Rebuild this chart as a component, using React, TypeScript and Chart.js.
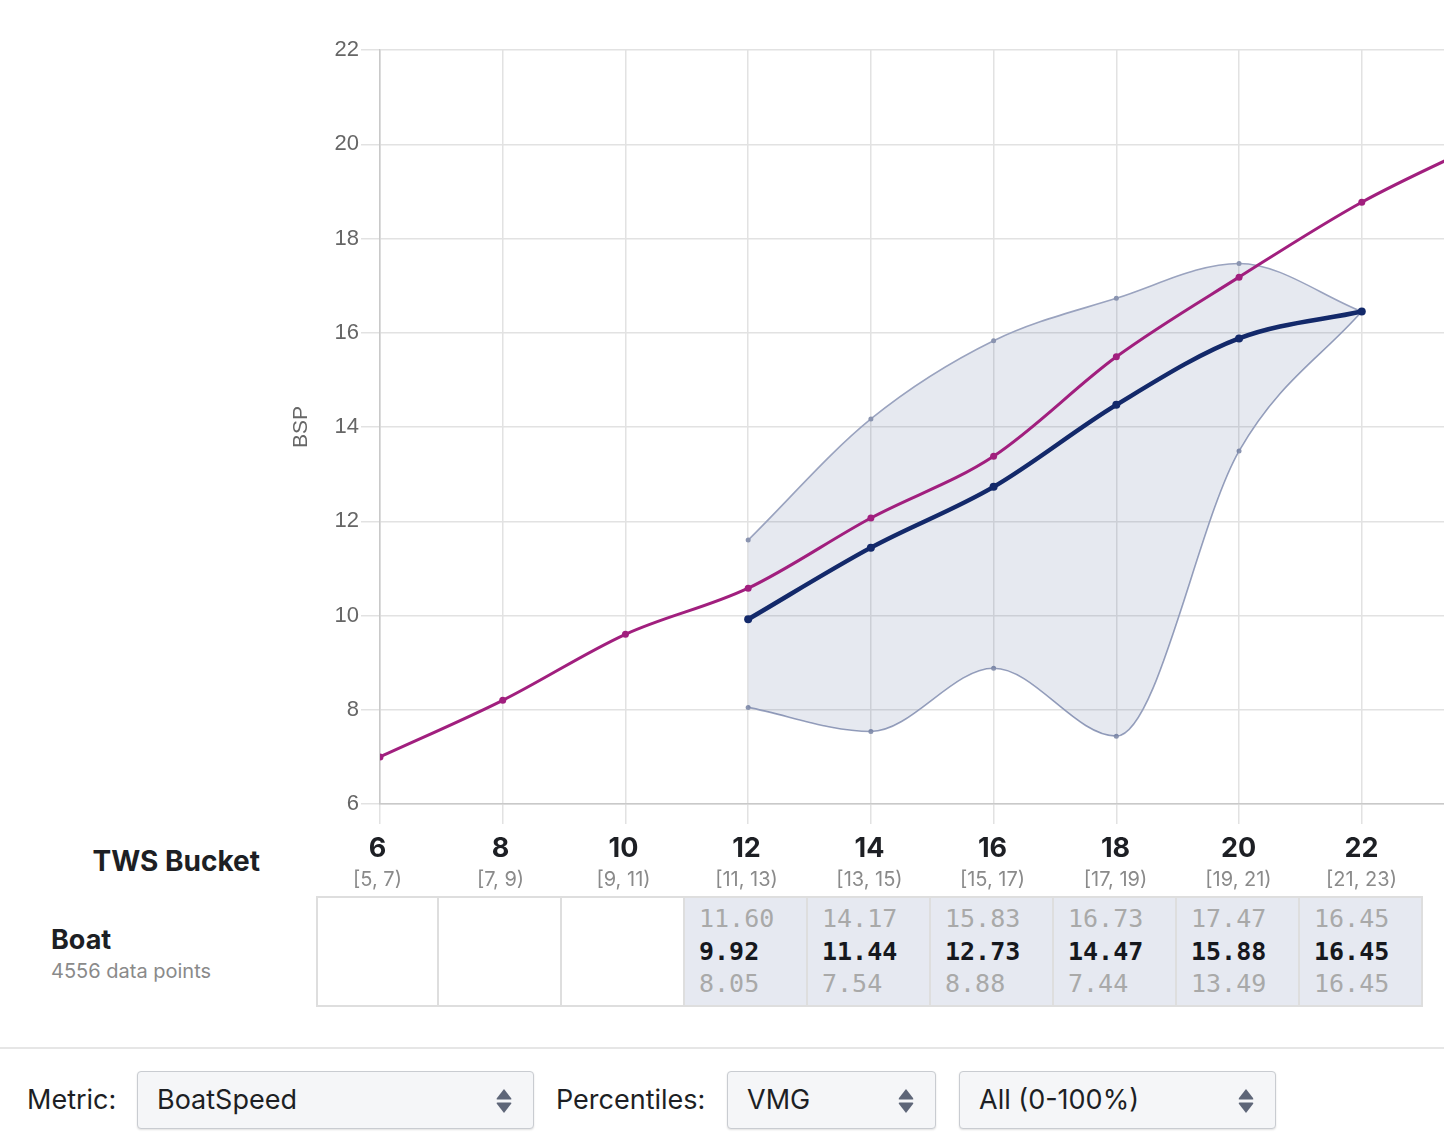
import React, { useEffect, useRef } from "react";
import { Chart, registerables } from "chart.js";

Chart.register(...registerables);

// ---- data ----
const twsBuckets = [6, 8, 10, 12, 14, 16, 18, 20, 22];
const bucketRanges = ["[5, 7)", "[7, 9)", "[9, 11)", "[11, 13)", "[13, 15)", "[15, 17)", "[17, 19)", "[19, 21)", "[21, 23)"];
const targetX = [6, 8, 10, 12, 14, 16, 18, 20, 22, 24];
const targetBsp = [7.0, 8.2, 9.6, 10.58, 12.07, 13.38, 15.49, 17.18, 18.77, 20.05];
const boatX = [12, 14, 16, 18, 20, 22];
const boatUpper = [11.6, 14.17, 15.83, 16.73, 17.47, 16.45];
const boatMedian = [9.92, 11.44, 12.73, 14.47, 15.88, 16.45];
const boatLower = [8.05, 7.54, 8.88, 7.44, 13.49, 16.45];
const yTicksMin = 6;
const yTicksMax = 22;

const pts = (xs: number[], ys: number[]) => xs.map((x, i) => ({ x, y: ys[i] }));

const UI_FONT = "Inter, 'Noto Sans', sans-serif";
const MONO = "'DejaVu Sans Mono', monospace";

function Arrows() {
  return (
    <svg width="18" height="26" viewBox="0 0 18 26" style={{ position: "absolute", right: 20, top: 16 }}>
      <path d="M9 1 L16 10 Q17 11.5 15.5 11.5 L2.5 11.5 Q1 11.5 2 10 Z" fill="#5e6678" />
      <path d="M9 25 L16 16 Q17 14.5 15.5 14.5 L2.5 14.5 Q1 14.5 2 16 Z" fill="#5e6678" />
    </svg>
  );
}

function Select({ left, width, text }: { left: number; width: number; text: string }) {
  return (
    <div
      style={{
        position: "absolute",
        left,
        top: 1071,
        width: width - 2,
        height: 56,
        border: "1px solid #c9ccd1",
        borderRadius: 4,
        background: "#f5f6f8",
        boxShadow: "0 1px 2px rgba(0,0,0,0.12)",
        boxSizing: "content-box",
      }}
    >
      <div style={{ position: "absolute", left: 19, top: 0, lineHeight: "56px", fontSize: 27, color: "#1d1f24" }}>{text}</div>
      <Arrows />
    </div>
  );
}

export default function App() {
  const canvasRef = useRef<HTMLCanvasElement | null>(null);

  useEffect(() => {
    const ctx = canvasRef.current;
    if (!ctx) return;
    const chart = new Chart(ctx, {
      type: "line",
      data: {
        datasets: [
          {
            label: "Boat median",
            data: pts(boatX, boatMedian),
            borderColor: "#13296a",
            backgroundColor: "#13296a",
            borderWidth: 4.5,
            pointRadius: 4,
            pointBorderWidth: 0,
            cubicInterpolationMode: "monotone",
            order: 0,
            fill: false,
          },
          {
            label: "Target",
            data: pts(targetX, targetBsp),
            borderColor: "#a11f7e",
            backgroundColor: "#a11f7e",
            borderWidth: 3,
            pointRadius: 3.5,
            pointBorderWidth: 0,
            cubicInterpolationMode: "monotone",
            order: 1,
            fill: false,
          },
          {
            label: "Upper",
            data: pts(boatX, boatUpper),
            borderColor: "#9aa3bf",
            backgroundColor: "rgba(22,45,110,0.105)",
            pointBackgroundColor: "#8a94b0",
            borderWidth: 1.6,
            pointRadius: 2.5,
            pointBorderWidth: 0,
            cubicInterpolationMode: "monotone",
            order: 2,
            fill: "+1",
          },
          {
            label: "Lower",
            data: pts(boatX, boatLower),
            borderColor: "#9aa3bf",
            backgroundColor: "#8a94b0",
            pointBackgroundColor: "#8a94b0",
            borderWidth: 1.6,
            pointRadius: 2.5,
            pointBorderWidth: 0,
            cubicInterpolationMode: "monotone",
            order: 3,
            fill: false,
          },
        ],
      },
      options: {
        animation: false,
        responsive: false,
        maintainAspectRatio: false,
        layout: { padding: { top: 49, right: 0, left: 0, bottom: 0 } },
        plugins: { legend: { display: false }, tooltip: { enabled: false } },
        scales: {
          x: {
            type: "linear",
            min: 6,
            max: 23.34,
            ticks: { stepSize: 2, includeBounds: false, display: false },
            grid: { color: "#e2e2e2", lineWidth: 1.5, tickLength: 20, drawTicks: true },
            border: { color: "#c9c9c9", width: 1.5 },
            afterFit: (s: any) => {
              s.height = 27;
            },
          },
          y: {
            type: "linear",
            min: yTicksMin,
            max: yTicksMax,
            ticks: {
              stepSize: 2,
              color: "#666",
              padding: 2,
              font: { family: "'Liberation Sans', Arial, sans-serif", size: 22 },
            },
            grid: { color: "#e2e2e2", lineWidth: 1.5, tickLength: 19 },
            border: { color: "#c9c9c9", width: 1.5 },
            title: {
              display: true,
              text: "BSP",
              color: "#666",
              padding: { top: 9, bottom: 4 },
              font: { family: "'Liberation Sans', Arial, sans-serif", size: 21 },
            },
            afterFit: (s: any) => {
              s.width = 100;
            },
          },
        },
      },
    } as any);
    return () => chart.destroy();
  }, []);

  return (
    <div
      style={{
        position: "absolute",
        left: 0,
        top: 0,
        width: 1444,
        height: 1148,
        overflow: "hidden",
        background: "#fff",
        fontFamily: UI_FONT,
        color: "#1d1f24",
      }}
    >
      <canvas
        ref={canvasRef}
        width={1168}
        height={830}
        style={{ position: "absolute", left: 280, top: 1, width: 1168, height: 830 }}
      />

      {/* header labels */}
      <div
        style={{
          position: "absolute",
          right: 1444 - 260,
          top: 843,
          fontSize: 28,
          fontWeight: 700,
          lineHeight: "36px",
          whiteSpace: "nowrap",
        }}
      >
        TWS Bucket
      </div>
      {twsBuckets.map((b, i) => (
        <div key={b} style={{ position: "absolute", left: 316 + i * 123, top: 830, width: 123, textAlign: "center" }}>
          <div style={{ fontSize: 27, fontWeight: 700, lineHeight: "36px", color: "#1d1f24" }}>{b}</div>
          <div style={{ fontSize: 20, lineHeight: "26px", color: "#8a8a8a", marginTop: 0 }}>{bucketRanges[i]}</div>
        </div>
      ))}

      {/* Boat row label */}
      <div style={{ position: "absolute", left: 51, top: 922, fontSize: 27, fontWeight: 700, lineHeight: "36px" }}>Boat</div>
      <div style={{ position: "absolute", left: 51, top: 959, fontSize: 20, lineHeight: "24px", color: "#8a8a8a" }}>
        4556 data points
      </div>

      {/* table */}
      {twsBuckets.map((b, i) => {
        const j = boatX.indexOf(b);
        const has = j >= 0;
        return (
          <div
            key={"c" + b}
            style={{
              position: "absolute",
              left: 316 + i * 123,
              top: 896,
              width: 123,
              height: 111,
              boxSizing: "border-box",
              border: "2px solid #dedede",
              borderLeftWidth: i === 0 ? 2 : 0,
              background: has ? "#e6e9f1" : "#fff",
              fontFamily: MONO,
              fontSize: 25,
              lineHeight: "32.5px",
              paddingLeft: 14,
              paddingTop: 5,
              whiteSpace: "nowrap",
            }}
          >
            {has && (
              <>
                <div style={{ color: "#a9a9a9" }}>{boatUpper[j].toFixed(2)}</div>
                <div style={{ color: "#16181d", fontWeight: 700 }}>{boatMedian[j].toFixed(2)}</div>
                <div style={{ color: "#a9a9a9" }}>{boatLower[j].toFixed(2)}</div>
              </>
            )}
          </div>
        );
      })}

      {/* separator */}
      <div style={{ position: "absolute", left: 0, top: 1047, width: 1444, height: 2, background: "#e6e6e6" }} />

      {/* controls */}
      <div style={{ position: "absolute", left: 27, top: 1082, fontSize: 27, lineHeight: "36px", color: "#1d1f24" }}>Metric:</div>
      <Select left={137} width={397} text="BoatSpeed" />
      <div style={{ position: "absolute", left: 556, top: 1082, fontSize: 27, lineHeight: "36px", color: "#1d1f24" }}>
        Percentiles:
      </div>
      <Select left={727} width={209} text="VMG" />
      <Select left={959} width={317} text="All (0-100%)" />
    </div>
  );
}
